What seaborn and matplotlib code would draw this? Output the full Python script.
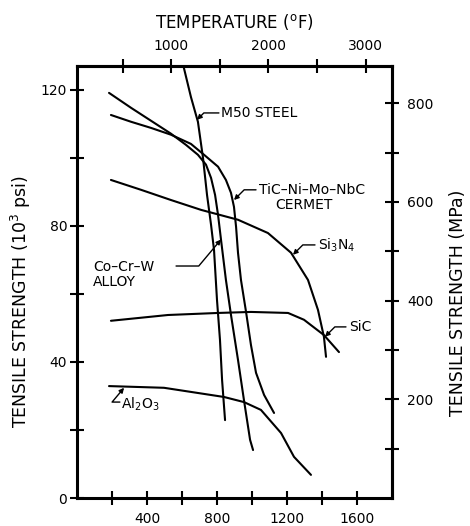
import matplotlib
matplotlib.use("Agg")
import matplotlib.pyplot as plt
import seaborn as sns

# tensile strength vs temperature (deg C, 10^3 psi)
m50_temp = [594, 651, 691, 720, 743, 766, 783, 800, 817, 829, 846]
m50_ksi = [130, 117.9, 110.6, 100, 89.1, 80.3, 72.9, 58.2, 46.5, 34.7, 22.9]

cocrw_temp = [183, 309, 423, 537, 623, 691, 737, 766, 789, 806, 823, 851, 880, 920, 954, 989, 1006]
cocrw_ksi = [119.1, 114.7, 110.9, 107.1, 103.8, 100.9, 98.0, 94.1, 89.1, 83.2, 75.9, 64.1, 53.8, 40.6, 28.8, 17.1, 14.1]

tic_temp = [194, 309, 423, 537, 651, 726, 806, 851, 880, 897, 909, 920, 937, 966, 994, 1023, 1069, 1126]
tic_ksi = [112.6, 110.6, 108.8, 106.8, 104.1, 100.9, 97.4, 93.5, 89.7, 85.6, 79.7, 72.1, 64.1, 54.7, 45.0, 36.8, 30.3, 25.0]

si3n4_temp = [194, 366, 537, 709, 920, 1091, 1223, 1320, 1377, 1411, 1423]
si3n4_ksi = [93.5, 90.6, 87.6, 84.7, 81.8, 77.9, 72.1, 64.1, 55.3, 47.4, 41.5]

sic_temp = [194, 520, 806, 994, 1206, 1297, 1411, 1497]
sic_ksi = [52.1, 53.8, 54.4, 54.7, 54.4, 52.4, 47.9, 42.9]

al2o3_temp = [183, 497, 840, 954, 1051, 1166, 1240, 1337]
al2o3_ksi = [32.9, 32.4, 29.7, 28.2, 25.9, 19.1, 12.1, 6.8]

x_ticks = [200, 400, 600, 800, 1000, 1200, 1400, 1600]
x_labels = ["", "400", "", "800", "", "1200", "", "1600"]
f_ticks = [500, 1000, 1500, 2000, 2500, 3000]
f_labels = ["", "1000", "", "2000", "", "3000"]
y_ticks = [0, 20, 40, 60, 80, 100, 120]
y_labels = ["0", "", "40", "", "80", "", "120"]
mpa_ticks = [100, 200, 300, 400, 500, 600, 700, 800]
mpa_labels = ["", "200", "", "400", "", "600", "", "800"]

sns.set_style("ticks")
plt.rcParams["font.family"] = ["DejaVu Sans"]
plt.rcParams["mathtext.default"] = "regular"
plt.rcParams.update({"text.color": "black", "axes.labelcolor": "black",
                     "xtick.color": "black", "ytick.color": "black",
                     "axes.edgecolor": "black"})

fig = plt.figure(figsize=(4.7, 5.26), dpi=100)
ax = fig.add_axes([77 / 470, 28 / 526, 315 / 470, 432 / 526])

curves = [(m50_temp, m50_ksi), (cocrw_temp, cocrw_ksi), (tic_temp, tic_ksi),
          (si3n4_temp, si3n4_ksi), (sic_temp, sic_ksi), (al2o3_temp, al2o3_ksi)]
for t, k in curves:
    sns.lineplot(x=t, y=k, sort=False, color="black", lw=1.5, ax=ax)

ax.set_xlim(0, 1800)
ax.set_ylim(0, 127)
ax.set_xticks(x_ticks, x_labels)
ax.set_yticks(y_ticks, y_labels)
for s in ax.spines.values():
    s.set_linewidth(2.2)
    s.set_visible(True)
ax.tick_params(direction="inout", length=10, width=1.5, labelsize=10)
ax.tick_params(axis="x", pad=5)
ax.tick_params(axis="y", pad=2)

top = ax.secondary_xaxis("top", functions=(lambda c: c * 9 / 5 + 32, lambda f: (f - 32) * 5 / 9))
top.set_xticks(f_ticks, f_labels)
top.tick_params(direction="inout", length=10, width=1.5, labelsize=10, pad=4)
top.spines["top"].set_linewidth(2.2)
top.set_xlabel("TEMPERATURE ($^o$F)", fontsize=12, labelpad=8)

right = ax.secondary_yaxis("right", functions=(lambda k: k * 6.895, lambda m: m / 6.895))
right.set_yticks(mpa_ticks, mpa_labels)
right.tick_params(direction="inout", length=10, width=1.5, labelsize=10, pad=6)
right.spines["right"].set_linewidth(2.2)

fig.text(21 / 470, 1 - 302 / 526, "TENSILE STRENGTH (10$^3$ psi)", rotation=90,
         ha="center", va="center", fontsize=12.5)
fig.text(458 / 470, 1 - 303 / 526, "TENSILE STRENGTH (MPa)", rotation=90,
         ha="center", va="center", fontsize=12.5)

arrow = dict(arrowstyle="-|>", color="black", lw=1.0, mutation_scale=7,
             shrinkA=0, shrinkB=0, connectionstyle="angle,angleA=0,angleB=45,rad=0")

# labels with leaders
ax.text(823, 113.2, "M50 STEEL", fontsize=10, ha="left", va="center")
ax.annotate("", xy=(686, 111.2), xytext=(811, 113.2), arrowprops=arrow)

ax.text(1040, 90.6, "TiC–Ni–Mo–NbC", fontsize=10, ha="left", va="center")
ax.text(1297, 86.2, "CERMET", fontsize=10, ha="center", va="center")
ax.annotate("", xy=(897, 87.6), xytext=(1023, 90.6), arrowprops=arrow)

ax.text(1377, 74.4, "Si$_3$N$_4$", fontsize=10, ha="left", va="center")
ax.annotate("", xy=(1234, 71.5), xytext=(1360, 74.4), arrowprops=arrow)

ax.text(1554, 50.3, "SiC", fontsize=10, ha="left", va="center")
ax.annotate("", xy=(1417, 47.4), xytext=(1537, 50.3), arrowprops=arrow)

ax.text(91, 65.6, "Co–Cr–W\nALLOY", fontsize=10, ha="left", va="center", linespacing=1.1)
ax.annotate("", xy=(823, 76), xytext=(566, 68.2),
            arrowprops=dict(arrow, connectionstyle="angle,angleA=0,angleB=50,rad=0"))

ax.text(251, 27.5, "Al$_2$O$_3$", fontsize=10, ha="left", va="center")
ax.annotate("", xy=(269, 32.4), xytext=(245, 28.2),
            arrowprops=dict(arrow, connectionstyle="angle,angleA=0,angleB=50,rad=0"))

fig.savefig("out.png", dpi=100)
